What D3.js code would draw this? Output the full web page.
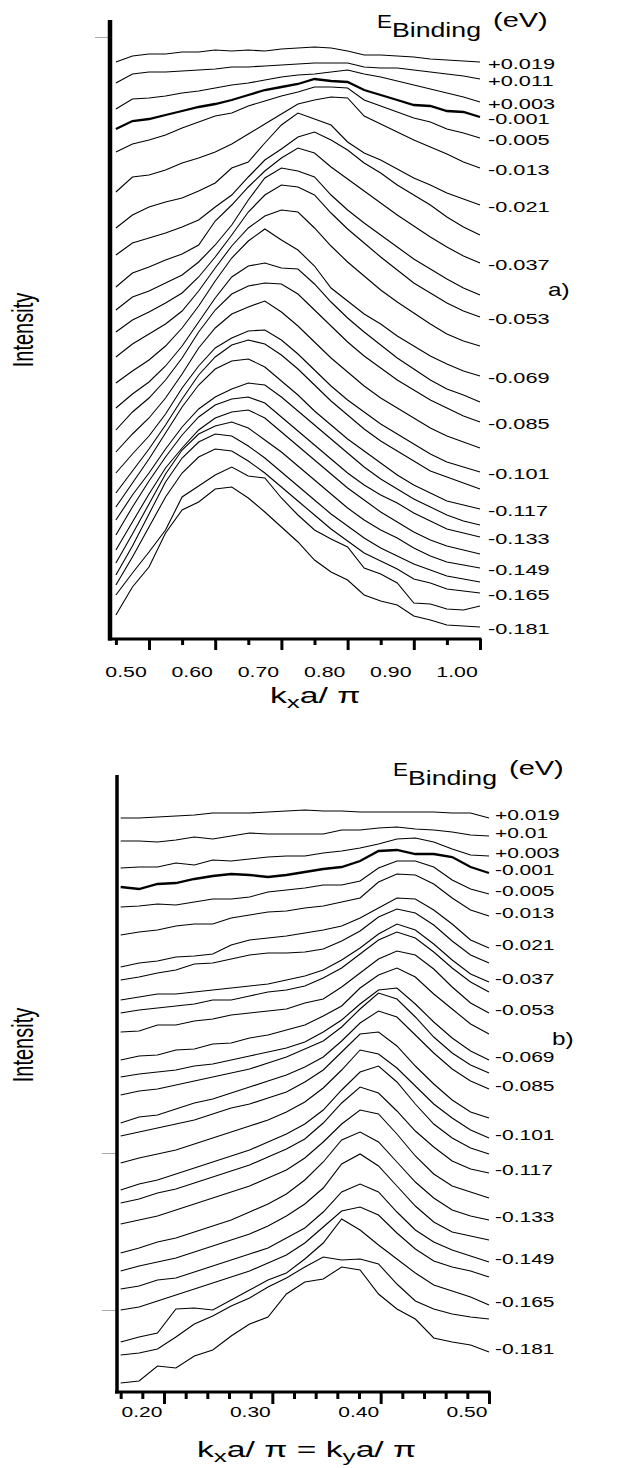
<!DOCTYPE html>
<html>
<head>
<meta charset="utf-8">
<script src="https://cdn.jsdelivr.net/npm/d3@7"></script>
<style>
  body { margin: 0; background: #fff; }
  svg { display: block; }
  text { font-family: "Liberation Sans", Arial, Helvetica, sans-serif; fill: #000; }
</style>
</head>
<body>
<svg id="chart" width="628" height="1468"></svg>
<script>
// binding energies of the stacked momentum distribution curves (eV)
var energies = [0.019, 0.011, 0.003, -0.001, -0.005, -0.013, -0.021, -0.029, -0.037,
  -0.045, -0.053, -0.061, -0.069, -0.077, -0.085, -0.093, -0.101, -0.109, -0.117,
  -0.125, -0.133, -0.141, -0.149, -0.157, -0.165, -0.173, -0.181];

// ---- panel a) ----
var topK = [0.45, 0.475, 0.5, 0.525, 0.55, 0.575, 0.6, 0.625, 0.65, 0.675, 0.7, 0.725,
  0.75, 0.775, 0.8, 0.825, 0.85, 0.875, 0.9, 0.925, 0.95, 0.975, 1.0];
var topOffsets = [577, 560, 537, 522, 501, 471, 434, 404, 376, 344, 322, 293, 263, 237,
  217, 191, 167, 150, 130, 114, 102, 85, 71, 57, 46, 33, 12];
var topCurves = [
  [0, 6, 8, 8, 10, 10, 12, 11, 12, 11, 13, 14, 15, 14, 11, 7, 7, 6, 5, 3, 2, 1, 0],
  [-4, 5, 7, 7, 8, 9, 10, 12, 12, 13, 14, 15, 16, 16, 16, 12, 11, 11, 9, 7, 5, 3, 0],
  [-7, 3, 4, 6, 9, 11, 14, 17, 19, 22, 25, 27, 28, 30, 32, 28, 25, 21, 17, 13, 9, 5, 0],
  [-12, -4, -2, 2, 6, 10, 13, 17, 22, 27, 30, 33, 38, 36, 35, 27, 22, 17, 12, 11, 6, 5, 0],
  [-14, -6, -2, 3, 10, 16, 22, 25, 32, 37, 42, 46, 51, 51, 50, 38, 32, 26, 20, 16, 9, 5, 0],
  [-24, -9, -7, -2, 5, 10, 16, 24, 34, 44, 54, 64, 68, 71, 70, 52, 44, 36, 28, 21, 14, 6, 0],
  [-23, -10, -2, 3, 7, 14, 22, 37, 43, 62, 80, 92, 86, 80, 63, 52, 45, 36, 27, 20, 12, 6, 0],
  [-20, -8, -3, 2, 8, 15, 28, 40, 58, 75, 86, 98, 103, 95, 85, 72, 62, 50, 40, 30, 18, 8, 0],
  [-24, -10, -4, 3, 9, 18, 42, 58, 76, 92, 105, 115, 110, 96, 84, 72, 60, 48, 37, 26, 16, 7, 0],
  [-15, -2, 4, 12, 20, 33, 50, 70, 95, 117, 127, 124, 118, 100, 85, 72, 60, 48, 36, 26, 16, 7, 0],
  [-15, -3, 5, 14, 24, 40, 60, 82, 105, 122, 132, 130, 122, 104, 88, 74, 60, 47, 34, 24, 14, 6, 0],
  [-11, 2, 12, 22, 35, 55, 78, 100, 118, 130, 136, 134, 118, 100, 84, 70, 56, 44, 33, 22, 12, 5, 0],
  [-7, 5, 16, 30, 48, 70, 95, 118, 135, 147, 136, 126, 110, 88, 75, 62, 52, 40, 30, 20, 12, 5, 0],
  [-6, 8, 20, 36, 56, 80, 104, 125, 136, 139, 134, 133, 118, 100, 84, 70, 57, 44, 33, 22, 13, 7, 0],
  [-8, 10, 24, 42, 64, 90, 112, 128, 136, 139, 138, 128, 112, 96, 80, 66, 54, 42, 32, 22, 14, 6, 0],
  [-4, 14, 30, 50, 74, 100, 120, 134, 141, 147, 136, 122, 106, 90, 76, 62, 50, 40, 30, 20, 12, 6, 0],
  [-1, 18, 36, 58, 84, 106, 124, 134, 141, 142, 132, 118, 102, 86, 72, 60, 48, 38, 28, 18, 10, 5, 0],
  [-4, 18, 40, 64, 90, 114, 132, 144, 149, 145, 134, 120, 104, 88, 74, 60, 48, 38, 28, 18, 12, 6, 0],
  [2, 26, 50, 76, 102, 124, 140, 148, 150, 142, 128, 114, 98, 84, 70, 58, 46, 34, 24, 16, 8, 4, 0],
  [5, 30, 52, 76, 98, 116, 128, 136, 142, 140, 128, 114, 100, 86, 72, 58, 46, 36, 26, 18, 10, 4, 0],
  [2, 30, 56, 80, 102, 120, 132, 138, 140, 134, 120, 106, 92, 78, 64, 52, 42, 34, 24, 16, 8, 4, 0],
  [4, 32, 60, 86, 106, 124, 136, 142, 144, 136, 122, 108, 94, 80, 66, 54, 42, 32, 22, 14, 8, 4, 0],
  [5, 34, 64, 94, 118, 134, 142, 146, 140, 128, 116, 102, 88, 74, 60, 48, 38, 30, 20, 12, 6, 3, 0],
  [7, 36, 68, 100, 124, 140, 148, 146, 136, 124, 110, 96, 82, 68, 56, 44, 34, 26, 18, 12, 6, 3, 0],
  [8, 36, 66, 96, 120, 136, 144, 142, 132, 120, 106, 92, 78, 64, 52, 40, 32, 24, 14, 10, 4, 2, 0],
  [11, 33, 54, 76, 109, 120, 131, 139, 130, 128, 108, 91, 76, 67, 59, 38, 32, 23, 3, 2, -3, -4, 0],
  [12, 40, 60, 94, 117, 125, 138, 140, 129, 115, 100, 85, 67, 55, 47, 32, 26, 22, 11, 7, 2, 1, 0]
];
var topLabels = ["+0.019", "+0.011", "+0.003", "-0.001", "-0.005", "-0.013", "-0.021",
  "-0.037", "-0.053", "-0.069", "-0.085", "-0.101", "-0.117", "-0.133", "-0.149",
  "-0.165", "-0.181"];
var topTicks = [0.5, 0.6, 0.7, 0.8, 0.9, 1.0];
var topMinorTicks = [0.45, 0.55, 0.65, 0.75, 0.85, 0.95];
var topTickLabels = ["0.50", "0.60", "0.70", "0.80", "0.90", "1.00"];
var topGrayTicks = [602];

// ---- panel b) ----
var bottomK = [0.16, 0.177, 0.194, 0.211, 0.228, 0.245, 0.262, 0.279, 0.296, 0.313, 0.33,
  0.347, 0.364, 0.381, 0.398, 0.415, 0.432, 0.449, 0.466, 0.483, 0.5];
var bottomOffsets = [574, 556, 536, 519, 498, 476, 444, 429, 410, 400, 379, 358, 332, 319,
  303, 274, 254, 238, 219, 194, 172, 152, 130, 115, 87, 73, 40];
var bottomCurves = [
  [0, 0, 1, 2, 3, 5, 5, 5, 6, 7, 8, 7, 7, 6, 6, 6, 6, 6, 5, 5, 0],
  [-5, -5, -6, -4, -1, -3, 0, 3, 2, 2, 2, 2, 6, 6, 8, 9, 7, 6, 4, 1, 0],
  [-12, -11, -11, -7, -9, -4, -5, -3, -1, 0, 0, 3, 5, 8, 12, 17, 18, 14, 7, 1, 0],
  [-14, -16, -11, -10, -6, -3, -1, -2, -4, -2, 1, 4, 6, 12, 22, 23, 19, 19, 16, 6, 0],
  [-13, -12, -10, -11, -8, -5, -5, -3, 2, 4, 6, 9, 9, 13, 26, 33, 33, 27, 14, 5, 0],
  [-19, -16, -14, -10, -8, -8, -2, 1, 4, 5, 8, 10, 14, 18, 34, 42, 41, 32, 18, 6, 0],
  [-19, -15, -13, -9, -8, -6, 3, 8, 10, 12, 15, 18, 22, 30, 40, 50, 49, 38, 24, 8, 0],
  [-17, -14, -10, -7, -1, 0, 4, 8, 10, 10, 11, 14, 22, 32, 46, 54, 50, 38, 22, 8, 0],
  [-18, -15, -12, -12, -10, -8, -6, -4, -2, 2, 6, 12, 22, 34, 48, 58, 52, 38, 22, 8, 0],
  [-21, -18, -16, -14, -12, -8, -8, -4, 0, 2, 6, 14, 24, 38, 52, 60, 54, 40, 24, 10, 0],
  [-19, -18, -12, -12, -8, -6, -2, 0, 2, 4, 10, 14, 26, 40, 54, 62, 58, 44, 26, 10, 0],
  [-26, -22, -21, -16, -15, -10, -9, -4, -1, 4, 9, 18, 28, 46, 59, 66, 57, 40, 25, 10, 0],
  [-17, -14, -12, -10, -6, -4, 0, 4, 8, 12, 18, 28, 40, 56, 70, 72, 56, 38, 22, 9, 0],
  [-22, -18, -16, -12, -8, -4, 0, 4, 10, 16, 24, 32, 46, 64, 80, 74, 56, 36, 20, 8, 0],
  [-34, -28, -26, -20, -14, -10, -4, 2, 8, 14, 22, 32, 48, 66, 78, 72, 54, 36, 20, 8, 0],
  [-18, -14, -10, -6, -2, 4, 10, 14, 20, 26, 36, 48, 66, 84, 86, 72, 52, 34, 18, 6, 0],
  [-25, -20, -16, -12, -6, 0, 6, 12, 18, 26, 36, 50, 68, 88, 84, 70, 52, 34, 20, 8, 0],
  [-36, -30, -26, -20, -14, -8, -2, 4, 12, 20, 30, 44, 64, 82, 88, 72, 50, 30, 16, 6, 0],
  [-30, -26, -20, -16, -10, -4, 2, 8, 16, 24, 34, 50, 70, 86, 80, 62, 42, 26, 12, 4, 0],
  [-26, -22, -18, -12, -6, 0, 6, 12, 20, 28, 40, 56, 74, 88, 84, 64, 42, 24, 12, 6, 0],
  [-33, -28, -22, -18, -12, -6, 0, 8, 16, 26, 40, 58, 80, 88, 78, 58, 38, 22, 10, 4, 0],
  [-31, -26, -22, -18, -12, -6, 0, 6, 14, 24, 36, 52, 76, 86, 74, 54, 34, 18, 8, 4, 0],
  [-27, -24, -18, -16, -10, -4, 2, 8, 14, 24, 34, 50, 70, 78, 70, 50, 32, 20, 12, 6, 0],
  [-33, -30, -24, -18, -12, -6, 0, 6, 14, 22, 34, 50, 66, 70, 62, 44, 28, 16, 10, 6, 0],
  [-37, -32, -28, -4, -3, -5, 5, 15, 25, 32, 46, 62, 86, 75, 60, 46, 32, 20, 14, 8, 0],
  [-36, -34, -30, -18, -5, 3, 13, 21, 32, 41, 52, 62, 59, 60, 55, 35, 18, 10, 5, 2, 0],
  [-31, -29, -14, -16, -4, 2, 16, 28, 35, 58, 70, 73, 85, 82, 58, 43, 33, 14, 10, 7, 0]
];
var bottomLabels = ["+0.019", "+0.01", "+0.003", "-0.001", "-0.005", "-0.013", "-0.021",
  "-0.037", "-0.053", "-0.069", "-0.085", "-0.101", "-0.117", "-0.133", "-0.149",
  "-0.165", "-0.181"];
var bottomTicks = [0.2, 0.3, 0.4, 0.5];
var bottomMinorTicks = [0.16, 0.18, 0.22, 0.24, 0.26, 0.28, 0.32, 0.34, 0.36, 0.38,
  0.42, 0.44, 0.46, 0.48];
var bottomTickLabels = ["0.20", "0.30", "0.40", "0.50"];
var bottomGrayTicks = [239, 82];

var boldEnergy = -0.001;

var svg = d3.select("#chart");
svg.append("rect").attr("width", 628).attr("height", 1468).attr("fill", "#fff");

// text in the original figure is stretched horizontally
function stretched(g, txt, x, y, size, sx, anchor) {
  return g.append("text")
    .attr("transform", "translate(" + x + "," + y + ") scale(" + sx + ",1)")
    .attr("font-size", size)
    .attr("text-anchor", anchor || "start")
    .text(txt);
}

function drawPanel(p) {
  var g = svg.append("g");
  var x = d3.scaleLinear().domain(p.xDomain).range(p.xRange);
  var y = d3.scaleLinear().domain([0, p.yMax]).range([p.bottom, p.top]);

  p.curves.forEach(function(c, j) {
    var off = p.offsets[j];
    var line = d3.line()
      .x(function(d, i) { return x(p.k[i]); })
      .y(function(d) { return y(off + d); });
    g.append("path")
      .datum(c)
      .attr("d", line)
      .attr("fill", "none")
      .attr("stroke", "#000")
      .attr("stroke-width", energies[j] === boldEnergy ? 2.3 : 1.1);
  });

  // energy labels at the right end of the curves
  p.labels.forEach(function(t) {
    var j = d3.minIndex(energies, function(v) { return Math.abs(v - (+t)); });
    stretched(g, t, p.labelX, y(p.offsets[j]) + p.labelDy, p.labelSize, p.labelSx)
      .attr("dominant-baseline", "central");
  });

  // faint y ticks
  g.append("g")
    .attr("transform", "translate(" + p.left + ",0)")
    .call(d3.axisLeft(y).tickValues(p.gray).tickSize(15).tickFormat(""))
    .call(function(a) { a.select(".domain").remove(); })
    .selectAll("line").attr("stroke", "#aaa");

  // x ticks
  g.append("g")
    .attr("transform", "translate(0," + p.bottom + ")")
    .call(d3.axisBottom(x).tickValues(p.minor).tickSize(p.minorLen).tickFormat(""))
    .call(function(a) { a.select(".domain").remove(); })
    .selectAll("line").attr("stroke-width", 3);
  g.append("g")
    .attr("transform", "translate(0," + p.bottom + ")")
    .call(d3.axisBottom(x).tickValues(p.ticks).tickSize(p.majorLen).tickFormat(""))
    .call(function(a) { a.select(".domain").remove(); })
    .selectAll("line").attr("stroke-width", 3);

  p.ticks.forEach(function(t, i) {
    stretched(g, p.tickLabels[i], x(t) + p.tickDx, p.tickY, p.tickSize, p.tickSx, "middle");
  });

  // axis frame
  g.append("line")
    .attr("x1", p.left).attr("x2", p.left)
    .attr("y1", p.top).attr("y2", p.bottom + 1.5)
    .attr("stroke", "#000").attr("stroke-width", p.yAxisWidth);
  g.append("line")
    .attr("x1", p.left - 2).attr("x2", p.xRange[1] + 1.5)
    .attr("y1", p.bottom).attr("y2", p.bottom)
    .attr("stroke", "#000").attr("stroke-width", 3);

  // "Intensity"
  g.append("text")
    .attr("transform", "translate(" + p.intensityPos[0] + "," + p.intensityPos[1] +
      ") rotate(-90) scale(1,1.45)")
    .attr("font-size", 20)
    .attr("text-anchor", "middle")
    .text("Intensity");

  // E_Binding (eV)
  stretched(g, "E", p.eTitle[0], p.eTitle[1], 18, 1.25);
  stretched(g, "Binding", p.eTitle[0] + 15, p.eTitle[1] + 9, 21, 1.27);
  stretched(g, "(eV)", p.eTitle[0] + 116, p.eTitle[1] - 1, 20, 1.45);

  // panel letter
  stretched(g, p.letter, p.letterPos[0], p.letterPos[1], 18, 1.35);
  return g;
}

var gTop = drawPanel({
  k: topK, offsets: topOffsets, curves: topCurves, labels: topLabels,
  xDomain: [0.5, 1.0], xRange: [149, 480], yMax: 619, top: 20, bottom: 639, left: 110,
  ticks: topTicks, minor: topMinorTicks, tickLabels: topTickLabels, gray: topGrayTicks,
  majorLen: 11, minorLen: 6, tickDx: -23, tickY: 677, tickSize: 15, tickSx: 1.42,
  labelX: 488, labelDy: 2, labelSize: 15, labelSx: 1.45, yAxisWidth: 4.5,
  intensityPos: [33, 330], eTitle: [377, 28], letter: "a)", letterPos: [548, 296]
});

var gBottom = drawPanel({
  k: bottomK, offsets: bottomOffsets, curves: bottomCurves, labels: bottomLabels,
  xDomain: [0.2, 0.5], xRange: [164, 489], yMax: 617, top: 775, bottom: 1392, left: 117,
  ticks: bottomTicks, minor: bottomMinorTicks, tickLabels: bottomTickLabels, gray: bottomGrayTicks,
  majorLen: 12, minorLen: 7, tickDx: -22, tickY: 1417, tickSize: 14, tickSx: 1.5,
  labelX: 495, labelDy: -3, labelSize: 14, labelSx: 1.5, yAxisWidth: 3.5,
  intensityPos: [33, 1045], eTitle: [393, 776], letter: "b)", letterPos: [552, 1045]
});

// x axis titles with subscripts
function kTitle(g, x, y, parts) {
  var t = g.append("text")
    .attr("transform", "translate(" + x + "," + y + ") scale(1.53,1)")
    .attr("font-size", 22);
  parts.forEach(function(p) {
    t.append("tspan")
      .attr("font-size", p.sub ? 17 : 22)
      .attr("dy", p.sub ? 5 : (p.after ? -5 : 0))
      .text(p.s);
  });
}
kTitle(gTop, 270, 703, [{s: "k"}, {s: "x", sub: true}, {s: "a/ \u03c0", after: true}]);
kTitle(gBottom, 197, 1457, [{s: "k"}, {s: "x", sub: true}, {s: "a/ \u03c0 = k", after: true},
  {s: "y", sub: true}, {s: "a/ \u03c0", after: true}]);
</script>
</body>
</html>
